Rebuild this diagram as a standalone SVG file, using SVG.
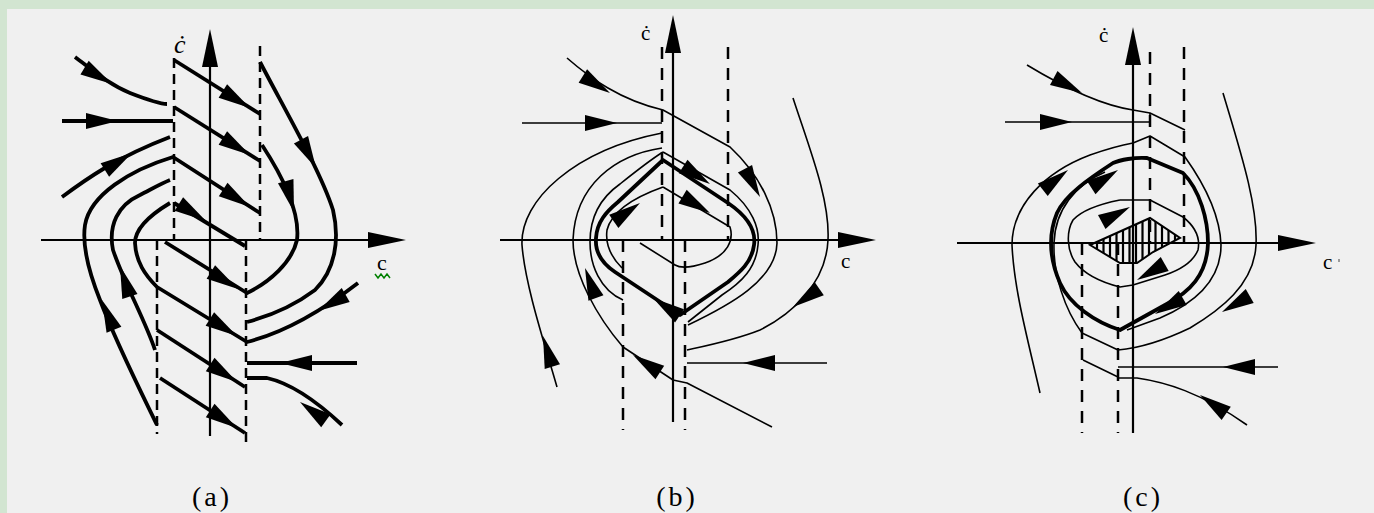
<svg xmlns="http://www.w3.org/2000/svg" width="1374" height="513" viewBox="0 0 1374 513">
<style>
.bg{fill:#D2E5D1}
.panel{fill:#F0F0F0}
.ax{stroke:#000;stroke-width:2.2;fill:none}
.dashA{stroke:#000;stroke-width:2.5;stroke-dasharray:10,6;fill:none}
.dash{stroke:#000;stroke-width:2.5;stroke-dasharray:12,9;fill:none}
.thk{stroke:#000;stroke-width:3.8;fill:none;stroke-linejoin:round}
.thn{stroke:#000;stroke-width:1.6;fill:none;stroke-linejoin:round}
.lbl{font-family:"Liberation Serif",serif;fill:#000}
.cap{font-family:"Liberation Serif",serif;font-size:28px;fill:#000;text-anchor:middle;letter-spacing:3px}
.hatch{stroke:#000;stroke-width:2.2}
</style>
<defs>
<polygon id="ah" points="0,0 -32,-8 -32,8" fill="#000"/>
<polygon id="axh" points="0,0 -38,-8 -38,8" fill="#000"/>
<clipPath id="lens"><path d="M1090,245 L1150,218 L1180,238 L1153,252 L1137,263 L1120,263 Z"/></clipPath>
</defs>
<rect class="bg" x="0" y="0" width="1374" height="513"/>
<rect class="panel" x="7" y="9" width="1367" height="504"/>

<!-- Panel (a) -->
<g id="panel-a">
  <path class="ax" d="M41,240 L400,240 M210,436 L210,40"/>
  <use href="#axh" transform="translate(406,240)"/>
  <use href="#axh" transform="translate(210,29) rotate(-90)"/>
  <path class="dashA" d="M174,58 L174,240 M157,240 L157,434 M260,46 L260,240 M246,240 L246,442"/>
  <g id="traj-a">
    <path class="thk" d="M75,57 C95,72 110,85 130,93 C148,100 160,104 167,104"/>
    <path class="thk" d="M62,121 L173,121"/>
    <path class="thk" d="M174,60 L260,114"/>
    <path class="thk" d="M174,107 L260,161"/>
    <path class="thk" d="M62,197 C85,180 115,158 170,137"/>
    <path class="thk" d="M157,425 C140,390 115,340 100,300 C88,270 82,245 85,225 C90,195 130,170 173,157 L260,213"/>
    <path class="thk" d="M155,350 C145,320 125,285 113,250 C108,225 118,205 140,195 C150,190 160,184 170,180"/>
    <path class="thk" d="M170,203 C150,215 135,228 135,243 C136,262 145,275 157,287 L247,342 C275,335 310,320 358,283"/>
    <path class="thk" d="M174,203 L245,246"/>
    <path class="thk" d="M165,242 L247,293 C270,282 292,262 297,240 C300,215 285,180 262,145"/>
    <path class="thk" d="M260,62 C285,110 320,170 333,210 C340,240 335,270 315,290 C295,305 270,316 247,322"/>
    <path class="thk" d="M157,330 L245,387"/>
    <path class="thk" d="M247,363 L357,363"/>
    <path class="thk" d="M247,378 L267,378 C285,382 310,395 342,425"/>
    <path class="thk" d="M160,378 L245,433"/>
    <use href="#ah" transform="translate(112,84) rotate(31)"/>
    <use href="#ah" transform="translate(118,121)"/>
    <use href="#ah" transform="translate(250,108) rotate(32)"/>
    <use href="#ah" transform="translate(250,155) rotate(32)"/>
    <use href="#ah" transform="translate(132,153) rotate(-32)"/>
    <use href="#ah" transform="translate(102,300) rotate(-112)"/>
    <use href="#ah" transform="translate(250,207) rotate(33)"/>
    <use href="#ah" transform="translate(120,266) rotate(-108)"/>
    <use href="#ah" transform="translate(237,336) rotate(32)"/>
    <use href="#ah" transform="translate(318,311) rotate(150)"/>
    <use href="#ah" transform="translate(206,221) rotate(32)"/>
    <use href="#ah" transform="translate(238,289) rotate(32)"/>
    <use href="#ah" transform="translate(294,212) rotate(75)"/>
    <use href="#ah" transform="translate(316,168) rotate(62)"/>
    <use href="#ah" transform="translate(237,382) rotate(33)"/>
    <use href="#ah" transform="translate(280,363) rotate(180)"/>
    <use href="#ah" transform="translate(300,402) rotate(-144)"/>
    <use href="#ah" transform="translate(237,428) rotate(33)"/>
  </g>
  <text class="lbl" x="174" y="53" font-size="26" font-style="italic">ċ</text>
  <text class="lbl" x="377" y="270" font-size="22">c</text>
  <path d="M375,274 L378,278 L381,274 L384,278 L387,274 L390,278" stroke="#008000" stroke-width="1.5" fill="none"/>
  <text class="cap" x="212" y="506">(a)</text>
</g>

<!-- Panel (b) -->
<g id="panel-b">
  <path class="ax" d="M500,240 L870,240 M673,422 L673,28"/>
  <use href="#axh" transform="translate(876,240)"/>
  <use href="#axh" transform="translate(673,15) rotate(-90)"/>
  <path class="dash" d="M662,47 L662,240 M728,47 L728,240 M623,240 L623,430 M685,240 L685,430"/>
  <g id="traj-b">
    <path class="thn" d="M557,387 C545,345 525,285 522,245 C520,200 575,150 662,133"/>
    <path class="thn" d="M522,123 L662,123"/>
    <path class="thn" d="M567,58 C590,78 620,100 663,110 L730,147 C760,175 777,210 777,243 C776,280 730,305 688,325"/>
    <path class="thn" d="M793,98 C810,150 830,200 828,240 C826,285 790,315 760,330 C735,340 710,345 687,350"/>
    <path class="thn" d="M662,148 C615,155 575,185 573,240 C573,275 598,318 623,347 L673,380 L687,383 L772,427"/>
    <path class="thn" d="M663,152 L730,190 C752,208 760,228 758,245 C756,268 742,282 722,295 L688,322"/>
    <path class="thn" d="M623,300 C600,290 590,265 590,242 C590,215 603,196 620,184 C635,172 650,160 663,152"/>
    <path class="thn" d="M687,363 L827,363"/>
    <path class="thk" d="M663,160 L728,203 C750,218 756,232 754,245 C752,262 740,272 728,282 L680,315 L615,272 C600,262 595,250 596,238 C597,222 606,212 618,202 Z"/>
    <path class="thn" d="M663,187 L730,227 C734,240 728,255 705,263 C690,268 680,268 675,265 L640,243"/>
    <path class="thn" d="M663,187 C635,197 612,210 607,230 C605,245 612,258 622,268"/>
    <use href="#ah" transform="translate(543,336) rotate(-107)"/>
    <use href="#ah" transform="translate(617,123)"/>
    <use href="#ah" transform="translate(610,93) rotate(32)"/>
    <use href="#ah" transform="translate(760,197) rotate(62)"/>
    <use href="#ah" transform="translate(793,307) rotate(145)"/>
    <use href="#ah" transform="translate(710,184) rotate(33)"/>
    <use href="#ah" transform="translate(710,213) rotate(31)"/>
    <use href="#ah" transform="translate(640,203) rotate(-35)"/>
    <use href="#ah" transform="translate(585,268) rotate(-110)"/>
    <use href="#ah" transform="translate(633,355) rotate(-147)"/>
    <use href="#ah" transform="translate(743,363) rotate(180)"/>
    <use href="#ah" transform="translate(653,298) rotate(-146)"/>
  </g>
  <text class="lbl" x="641" y="40" font-size="21">ċ</text>
  <text class="lbl" x="841" y="268" font-size="21">c</text>
  <text class="cap" x="677" y="506">(b)</text>
</g>

<!-- Panel (c) -->
<g id="panel-c">
  <path class="ax" d="M957,243 L1310,243 M1133,433 L1133,40"/>
  <use href="#axh" transform="translate(1316,243)"/>
  <use href="#axh" transform="translate(1133,27) rotate(-90)"/>
  <path class="dash" d="M1150,52 L1150,243 M1184,47 L1184,243 M1082,243 L1082,433 M1118,243 L1118,433"/>
  <g id="traj-c">
    <path class="thn" d="M1027,65 C1065,88 1100,105 1133,110 L1150,113 L1185,130"/>
    <path class="thn" d="M1005,122 L1150,122 L1150,113"/>
    <path class="thn" d="M1223,93 C1240,150 1258,205 1256,245 C1254,285 1220,310 1190,328 C1165,340 1140,348 1118,350 L1082,333 C1065,310 1053,275 1054,243 C1055,210 1075,185 1105,172"/>
    <path class="thn" d="M1040,393 C1028,340 1014,290 1012,245 C1012,205 1045,172 1090,155 C1110,148 1122,145 1133,143 L1150,136 L1185,157 C1205,185 1220,215 1221,245 C1221,280 1195,303 1160,318 L1127,330"/>
    <path class="thk" d="M1113,163 C1120,160 1135,157 1147,158 L1183,173 C1200,190 1208,220 1208,243 C1207,275 1190,292 1165,305 L1120,330 C1095,322 1070,305 1060,283 C1050,260 1048,235 1057,213 C1065,195 1090,178 1113,163 Z"/>
    <path class="thn" d="M1120,200 L1150,200 L1183,217 C1197,228 1200,240 1198,250 C1193,262 1180,270 1165,275 L1133,285 L1120,287 C1100,282 1085,275 1075,262 C1067,250 1066,232 1073,220 C1082,210 1100,204 1120,200"/>
    <path class="thn" d="M1083,360 L1118,377"/>
    <path class="thn" d="M1118,367 L1278,367"/>
    <path class="thn" d="M1118,378 L1137,378 C1165,382 1200,392 1247,425"/>
    <path d="M1090,245 L1150,218 L1180,238 L1153,252 L1137,263 L1120,263 Z" stroke="#000" stroke-width="2" fill="none"/>
    <g clip-path="url(#lens)" class="hatch">
      <path d="M1097,210 V270 M1103.5,210 V270 M1110,210 V270 M1116.5,210 V270 M1123,210 V270 M1129.5,210 V270 M1136,210 V270 M1142.5,210 V270 M1149,210 V270 M1155.5,210 V270 M1162,210 V270 M1168.5,210 V270 M1175,210 V270"/>
    </g>
    <use href="#ah" transform="translate(1082,93) rotate(28)"/>
    <use href="#ah" transform="translate(1072,122)"/>
    <use href="#ah" transform="translate(1222,312) rotate(150)"/>
    <use href="#ah" transform="translate(1068,170) rotate(-38)"/>
    <use href="#ah" transform="translate(1118,170) rotate(-33)"/>
    <use href="#ah" transform="translate(1155,314) rotate(150)"/>
    <use href="#ah" transform="translate(1130,207) rotate(-28)"/>
    <use href="#ah" transform="translate(1137,280) rotate(150)"/>
    <use href="#ah" transform="translate(1223,367) rotate(180)"/>
    <use href="#ah" transform="translate(1200,395) rotate(-145)"/>
  </g>
  <text class="lbl" x="1099" y="42" font-size="21">ċ</text>
  <text class="lbl" x="1323" y="269" font-size="21">c</text>
  <rect x="1338" y="259" width="2" height="3" fill="#999"/>
  <text class="cap" x="1143" y="506">(c)</text>
</g>
</svg>
